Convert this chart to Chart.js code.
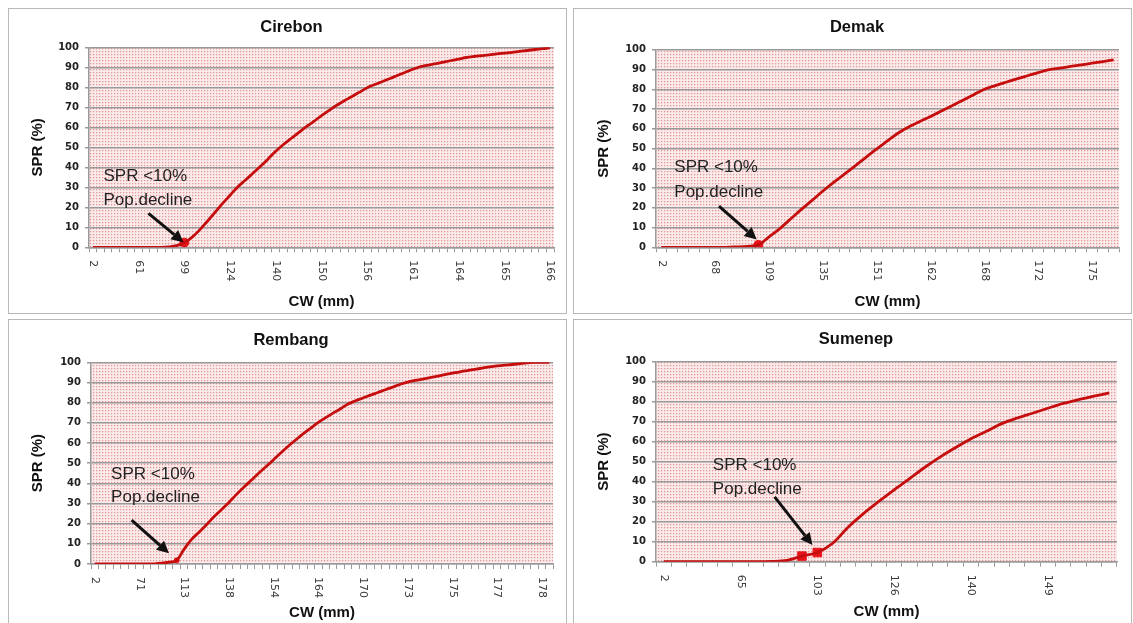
<!DOCTYPE html>
<html>
<head>
<meta charset="utf-8">
<script src="https://cdn.jsdelivr.net/npm/chart.js@4.4.0/dist/chart.umd.min.js"></script>
<style>
  html, body { margin: 0; padding: 0; background: #fff; }
  body { width: 1133px; height: 623px; position: relative; overflow: hidden; }
  .frame { position: absolute; border: 1px solid #b8b8b8; box-sizing: border-box; }
  canvas { position: absolute; }
</style>
</head>
<body>
<div class="frame" style="left:8px;top:8px;width:559px;height:306px"></div>
<div class="frame" style="left:573px;top:8px;width:559px;height:306px"></div>
<div class="frame" style="left:8px;top:319px;width:559px;height:310px"></div>
<div class="frame" style="left:573px;top:319px;width:559px;height:310px"></div>
<canvas id="cirebon" width="557" height="303" style="left:9px;top:9px"></canvas>
<canvas id="demak" width="556" height="303" style="left:574px;top:9px"></canvas>
<canvas id="rembang" width="557" height="303" style="left:9px;top:320px"></canvas>
<canvas id="sumenep" width="556" height="303" style="left:574px;top:320px"></canvas>
<script>
// CW labels shown on the axis (one every `step` categories)
const cirebonCW = ['2', '61', '99', '124', '140', '150', '156', '161', '164', '165', '166'];
const demakCW = ['2', '68', '109', '135', '151', '162', '168', '172', '175'];
const rembangCW = ['2', '71', '113', '138', '154', '164', '170', '173', '175', '177', '178'];
const sumenepCW = ['2', '65', '103', '126', '140', '149'];

// SPR (%) for every category
const cirebonSPR = [0, 0, 0, 0, 0, 0, 0, 0, 0, 0,
    0.2, 0.8, 2.3, 5.0, 8.6, 12.9, 17.3, 21.8, 26, 30.2,
    33.5, 37, 40.5, 44.2, 48, 51.4, 54.4, 57.3, 60.3, 63,
    65.8, 68.5, 71, 73.3, 75.4, 77.6, 79.8, 81.4, 82.9, 84.4,
    86, 87.5, 89, 90.3, 91.1, 91.8, 92.6, 93.4, 94.1, 94.9,
    95.4, 95.8, 96.2, 96.7, 97.1, 97.5, 98, 98.4, 98.9, 99.3,
    99.8];
const demakSPR = [0, 0, 0, 0, 0, 0, 0, 0.2, 0.5, 1.2,
    5.3, 9.5, 14.3, 19.2, 23.8, 28.5, 32.9, 37.1, 41.3, 45.6,
    49.9, 53.9, 57.9, 61.1, 63.7, 66.3, 69, 71.7, 74.5, 77.3,
    80.1, 81.9, 83.6, 85.3, 86.9, 88.5, 90, 90.8, 91.6, 92.4,
    93.3, 94.1, 95];
const rembangSPR = [0, 0, 0, 0, 0, 0, 0, 0, 0.1, 0.4,
    0.9, 1.8, 7.4, 12.2, 15.8, 19.5, 23.4, 26.9, 30.5, 34.4,
    38, 41.5, 45, 48.3, 51.7, 55.2, 58.5, 61.6, 64.6, 67.4,
    70.2, 72.6, 74.8, 77, 79.3, 80.9, 82.3, 83.7, 85, 86.4,
    87.7, 89.1, 90.2, 91, 91.7, 92.4, 93.1, 93.9, 94.6, 95.3,
    95.9, 96.5, 97.1, 97.7, 98.2, 98.6, 98.9, 99.3, 99.7, 100,
    100, 100];
const sumenepSPR = [0, 0, 0, 0, 0, 0, 0, 0.1, 0.6, 2.8,
    4.6, 9.2, 17.2, 24, 30.1, 35.9, 41.5, 47.2, 52.4, 57.1,
    61.5, 65.2, 69, 71.8, 74.2, 76.7, 79.1, 81, 82.7, 84.4];

// category index of the "SPR <10%" point(s)
const cirebonCut = [12];
const demakCut = [9];
const rembangCut = [11];
const sumenepCut = [9, 10];

Chart.defaults.font.family = '"Liberation Sans", Arial, sans-serif';
Chart.defaults.color = '#111';

const deco = {
    id: 'deco',
    beforeDraw(chart) {
        const { ctx, chartArea: a } = chart;
        const t = document.createElement('canvas');
        t.width = 3; t.height = 3;
        const g = t.getContext('2d');
        g.fillStyle = '#faeaea'; g.fillRect(0, 0, 3, 3);
        g.fillStyle = '#e29898'; g.fillRect(0, 0, 1, 1);
        g.fillStyle = '#f4d0d0'; g.fillRect(1, 0, 1, 1); g.fillRect(0, 1, 1, 1);
        ctx.save();
        ctx.fillStyle = ctx.createPattern(t, 'repeat');
        ctx.fillRect(a.left, a.top, a.right - a.left, a.bottom - a.top);
        ctx.restore();
    },
    afterDraw(chart, args, opts) {
        const { ctx } = chart;
        const xs = chart.scales.x, ys = chart.scales.y;
        // rotated category labels (reading downwards)
        ctx.save();
        ctx.font = '11px "DejaVu Sans"';
        ctx.fillStyle = '#3a3a3a';
        ctx.textAlign = 'left';
        ctx.textBaseline = 'middle';
        xs.getLabels().forEach((lab, i) => {
            if (!lab) return;
            ctx.save();
            ctx.translate(xs.getPixelForValue(i), xs.top + 13);
            ctx.rotate(Math.PI / 2);
            ctx.fillText(lab, 0, 0);
            ctx.restore();
        });
        ctx.restore();

        // note + arrow
        const n = opts.note;
        ctx.save();
        ctx.font = '17px "Liberation Sans"';
        ctx.fillStyle = '#222';
        ctx.textAlign = 'left';
        ctx.textBaseline = 'middle';
        const tx = xs.getPixelForValue(n.i);
        ctx.fillText('SPR <10%', tx, ys.getPixelForValue(n.v1));
        ctx.fillText('Pop.decline', tx, ys.getPixelForValue(n.v2));
        const x1 = xs.getPixelForValue(n.from[0]), y1 = ys.getPixelForValue(n.from[1]);
        const x2 = xs.getPixelForValue(n.to[0]), y2 = ys.getPixelForValue(n.to[1]);
        const ang = Math.atan2(y2 - y1, x2 - x1);
        const hl = 12, hw = 6;
        const bx = x2 - hl * Math.cos(ang), by = y2 - hl * Math.sin(ang);
        ctx.strokeStyle = '#111';
        ctx.fillStyle = '#111';
        ctx.lineWidth = 3;
        ctx.beginPath();
        ctx.moveTo(x1, y1);
        ctx.lineTo(bx, by);
        ctx.stroke();
        ctx.beginPath();
        ctx.moveTo(x2, y2);
        ctx.lineTo(bx + hw * Math.sin(ang), by - hw * Math.cos(ang));
        ctx.lineTo(bx - hw * Math.sin(ang), by + hw * Math.cos(ang));
        ctx.closePath();
        ctx.fill();
        ctx.restore();
    }
};

function makeChart(id, title, cw, step, spr, cut, markStyle, markSize, note, g) {
    const labels = spr.map((v, i) => (i % step === 0 && cw[i / step] !== undefined) ? cw[i / step] : '');
    const marks = spr.map((v, i) => cut.includes(i) ? v : null);
    new Chart(document.getElementById(id), {
        type: 'line',
        data: {
            labels: labels,
            datasets: [{
                data: spr,
                borderColor: '#c50d0d',
                borderWidth: 2.8,
                pointRadius: 0,
                cubicInterpolationMode: 'monotone'
            }, {
                data: marks,
                showLine: false,
                pointStyle: markStyle,
                pointRadius: markSize,
                pointBackgroundColor: '#e8141a',
                pointBorderColor: '#e8141a'
            }]
        },
        options: {
            responsive: false,
            animation: false,
            events: [],
            layout: { padding: g.pad },
            plugins: {
                legend: { display: false },
                tooltip: { enabled: false },
                title: {
                    display: true,
                    text: title,
                    color: '#111',
                    font: { size: 16.5, weight: 'bold' },
                    padding: { top: 0, bottom: g.titleGap }
                },
                deco: { note: note }
            },
            scales: {
                x: {
                    type: 'category',
                    offset: true,
                    ticks: { display: false },
                    grid: { display: true, drawOnChartArea: false, drawTicks: true, tickLength: 5, color: '#9a9a9a', offset: true },
                    border: { color: '#9a9a9a', width: 1.5 },
                    title: { display: true, text: 'CW (mm)', color: '#111', font: { size: 15, weight: 'bold' }, padding: { top: 0, bottom: g.xTitlePad } },
                    afterFit: s => { s.height = g.xh; }
                },
                y: {
                    min: 0,
                    max: 100,
                    ticks: { stepSize: 10, padding: 6, color: '#222', font: { family: '"DejaVu Sans"', size: 10, weight: 'bold' } },
                    grid: { color: '#999999', lineWidth: 1.5, tickLength: 4 },
                    border: { color: '#9a9a9a', width: 1.5 },
                    title: { display: true, text: 'SPR (%)', color: '#111', font: { size: 15, weight: 'bold' }, padding: 0 },
                    afterFit: s => { s.width = g.yw; }
                }
            }
        },
        plugins: [deco]
    });
}

makeChart('cirebon', 'Cirebon', cirebonCW, 6, cirebonSPR, cirebonCut, 'circle', 4.5,
    { i: 1.4, v1: 35.5, v2: 23.3, from: [7.3, 17], to: [11.9, 2.5] },
    { pad: { left: 20, right: 12, top: 8.4, bottom: 0 }, titleGap: 10.1, yw: 60, xh: 64.7, xTitlePad: 1.3 });

makeChart('demak', 'Demak', demakCW, 5, demakSPR, demakCut, 'circle', 4.5,
    { i: 1.2, v1: 40.7, v2: 28.1, from: [5.35, 20.9], to: [8.85, 4] },
    { pad: { left: 21, right: 11, top: 8.9, bottom: 0 }, titleGap: 12.2, yw: 61, xh: 64.7, xTitlePad: 1.3 });

makeChart('rembang', 'Rembang', rembangCW, 6, rembangSPR, rembangCut, 'circle', 2.5,
    { i: 2.2, v1: 44.4, v2: 32.9, from: [4.95, 21.7], to: [9.97, 5.3] },
    { pad: { left: 20, right: 13, top: 10.4, bottom: 0 }, titleGap: 12.1, yw: 62, xh: 59, xTitlePad: 0.7 });

makeChart('sumenep', 'Sumenep', sumenepCW, 5, sumenepSPR, sumenepCut, 'rect', 6,
    { i: 3.2, v1: 48.2, v2: 36.1, from: [7.22, 32.4], to: [9.68, 8.3] },
    { pad: { left: 21, right: 13, top: 9.1, bottom: 0 }, titleGap: 12.7, yw: 61, xh: 61.3, xTitlePad: 1.7 });
</script>
</body>
</html>
